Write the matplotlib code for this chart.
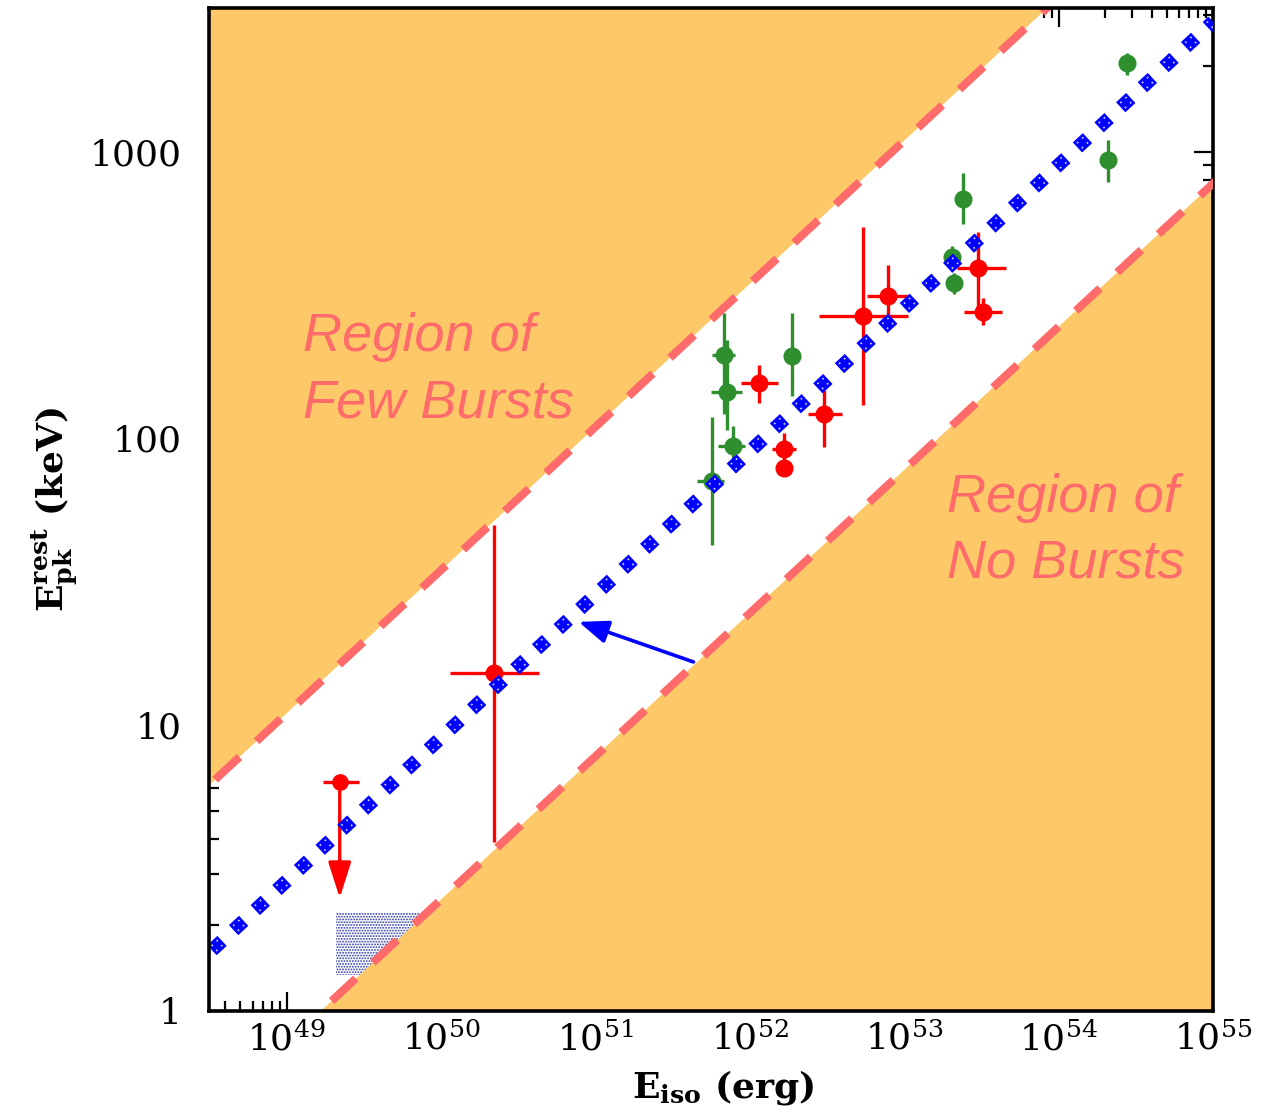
import numpy as np
import matplotlib.pyplot as plt
from matplotlib.ticker import NullFormatter
from matplotlib.transforms import offset_copy

plt.rcParams['font.family'] = 'DejaVu Serif'
plt.rcParams['mathtext.fontset'] = 'dejavuserif'
plt.rcParams['hatch.linewidth'] = 0.9

# Grenzlinien (Steigung 0.5 im log-log) und Fit-Relation, je zwei Endpunkte
line_E = np.array([1e48, 1e56])
few_Epk = np.array([3.47, 34670.0])   # obere Grenze "Few Bursts"
no_Epk = np.array([0.2455, 2455.0])   # untere Grenze "No Bursts"
fit_E = np.array([3.273e48, 1e55])
fit_Epk = np.array([1.63, 2851.0])

# rote Punkte: E_iso, Fehlergrenzen, Epk, Fehlergrenzen
red_E = np.array([2.19e50, 1.15e52, 1.65e52, 1.66e52, 3.03e52, 5.43e52, 7.87e52, 3.01e53, 3.25e53])
red_E_lo = np.array([1.14e50, 8.8e51, 1.38e52, 1.66e52, 2.36e52, 2.82e52, 5.77e52, 2.2e53, 2.44e53])
red_E_hi = np.array([4.27e50, 1.51e52, 2.0e52, 1.66e52, 3.97e52, 1.06e53, 1.06e53, 4.57e53, 4.31e53])
red_Epk = np.array([15.2, 156, 92, 79, 122, 268, 314, 394, 277])
red_Epk_lo = np.array([3.9, 133, 80, 79, 93, 131, 266, 288, 249])
red_Epk_hi = np.array([50, 180, 104, 79, 148, 547, 403, 526, 309])

# obere Grenze (Pfeil nach unten)
lim_E = 2.2e49
lim_E_lo = 1.71e49
lim_E_hi = 2.93e49
lim_Epk = 6.3
lim_arrow_to = 2.48

# gruene Punkte
green_E = np.array([5.64e51, 6.84e51, 7.05e51, 7.71e51, 1.86e52, 2.05e53, 2.11e53, 2.41e53, 2.09e54, 2.77e54])
green_E_lo = np.array([4.51e51, 5.72e51, 5.63e51, 6.25e51, 1.86e52, 1.9e53, 1.95e53, 2.41e53, 2.09e54, 2.77e54])
green_E_hi = np.array([6.84e51, 8.05e51, 8.93e51, 9.35e51, 1.86e52, 2.2e53, 2.28e53, 2.41e53, 2.09e54, 2.77e54])
green_Epk = np.array([71, 196, 145, 94, 194, 430, 349, 686, 938, 2047])
green_Epk_lo = np.array([42.4, 122, 107, 83, 140, 394, 320, 561, 786, 1859])
green_Epk_hi = np.array([119, 274, 221, 110, 274, 470, 378, 845, 1102, 2218])

# schraffiertes Rechteck unten links
box_E = np.array([2.07e49, 1.0e50])
box_Epk_lo = 1.336
box_Epk_hi = 2.22

# blauer Pfeil
arrow_from = (10**51.634, 10**1.219)
arrow_to = (10**50.89, 10**1.359)

x_ticks = [1e49, 1e50, 1e51, 1e52, 1e53, 1e54, 1e55]
x_labels = ['$10^{49}$', '$10^{50}$', '$10^{51}$', '$10^{52}$', '$10^{53}$', '$10^{54}$', '$10^{55}$']
y_ticks = [1, 10, 100, 1000]
y_labels = ['1', '10', '100', '1000']

orange = '#FCC868'
salmon = '#FF6B6B'

fig = plt.figure(figsize=(12.62, 11.15), dpi=100)
ax = fig.add_axes([0.1656, 0.0933, 0.7956, 0.8996])
ax.set_xscale('log')
ax.set_yscale('log')
ax.set_xlim(3.13e48, 1e55)
ax.set_ylim(1, 3185)

# Rechteck
ax.fill_between(box_E, box_Epk_lo, box_Epk_hi, facecolor='white', edgecolor='#2a35a8',
                hatch='......', lw=0, zorder=1)

# verbotene Bereiche
ax.fill_between(line_E, few_Epk, 1e6, color=orange, lw=0, zorder=2)
ax.fill_between(line_E, 1e-3, no_Epk, color=orange, lw=0, zorder=2)
ax.plot(line_E, few_Epk, color=salmon, lw=5.8, dashes=(4.1, 2.9), dash_capstyle='butt', zorder=3)
ax.plot(line_E, no_Epk, color=salmon, lw=5.8, dashes=(4.1, 2.9), dash_capstyle='butt', zorder=3)

# Datenpunkte
ax.errorbar(green_E, green_Epk,
            xerr=[green_E - green_E_lo, green_E_hi - green_E],
            yerr=[green_Epk - green_Epk_lo, green_Epk_hi - green_Epk],
            fmt='o', color='#2f8f2f', ms=12, elinewidth=2.4, capsize=0, zorder=4)
ax.errorbar(red_E, red_Epk,
            xerr=[red_E - red_E_lo, red_E_hi - red_E],
            yerr=[red_Epk - red_Epk_lo, red_Epk_hi - red_Epk],
            fmt='o', color='red', ms=12, elinewidth=2.4, capsize=0, zorder=4)
ax.errorbar([lim_E], [lim_Epk], xerr=[[lim_E - lim_E_lo], [lim_E_hi - lim_E]],
            fmt='o', color='red', ms=11, elinewidth=2.4, capsize=0, zorder=4)
ax.annotate('', xy=(lim_E, lim_arrow_to), xytext=(lim_E, lim_Epk),
            arrowprops=dict(arrowstyle='-|>,head_length=1.1,head_width=0.35', color='red',
                            lw=2.4, mutation_scale=20, shrinkA=0, shrinkB=0), zorder=4)

# Fit-Relation als Kaestchenlinie, mit weissen Punkten in den Kaestchen
ax.plot(fit_E, fit_Epk, color='blue', lw=9.86, dashes=(1, 1.155), dash_capstyle='butt', zorder=5)
for sgn in [-1, 1]:
    tr = offset_copy(ax.transData, fig=fig, x=-1.675 * sgn, y=1.809 * sgn, units='points')
    ax.plot(fit_E, fit_Epk, color='white', lw=1.2, alpha=0.85, transform=tr,
            linestyle=(16.15, (1, 3.108, 1, 12.6)), dash_capstyle='butt', zorder=5.5)

ax.annotate('', xy=arrow_to, xytext=arrow_from,
            arrowprops=dict(arrowstyle='-|>,head_length=0.9,head_width=0.35', color='blue',
                            lw=2.6, mutation_scale=20, shrinkA=0, shrinkB=0), zorder=6)

ax.text(0.0936, 0.592, 'Region of\nFew Bursts', transform=ax.transAxes, fontsize=39,
        family='Liberation Sans', style='italic', color=salmon, va='baseline', ha='left',
        linespacing=1.42, zorder=6)
ax.text(0.735, 0.4317, 'Region of\nNo Bursts', transform=ax.transAxes, fontsize=39,
        family='Liberation Sans', style='italic', color=salmon, va='baseline', ha='left',
        linespacing=1.42, zorder=6)

# Achsen
ax.set_xticks(x_ticks)
ax.set_xticklabels(x_labels)
ax.set_yticks(y_ticks)
ax.set_yticklabels(y_labels)
ax.xaxis.set_minor_formatter(NullFormatter())
ax.yaxis.set_minor_formatter(NullFormatter())
ax.tick_params(which='both', direction='in', top=True, right=True, width=1.6)
ax.tick_params(which='major', length=14, labelsize=26)
ax.tick_params(which='minor', length=7)
ax.tick_params(axis='y', pad=20)
ax.tick_params(axis='x', pad=8)
for side in ['left', 'top', 'right', 'bottom']:
    ax.spines[side].set_linewidth(2.6)
ax.spines['left'].set_zorder(7)
ax.spines['top'].set_zorder(7)

ax.set_xlabel(r'$\mathbf{E_{iso}}$ (erg)', fontsize=26, fontweight='bold')
ax.set_ylabel(r'$\mathbf{E^{rest}_{pk}}$ (keV)', fontsize=26, fontweight='bold')
ax.xaxis.set_label_coords(0.512, -0.057)
ax.yaxis.set_label_coords(-0.128, 0.5)

fig.savefig('out.png', dpi=100)
